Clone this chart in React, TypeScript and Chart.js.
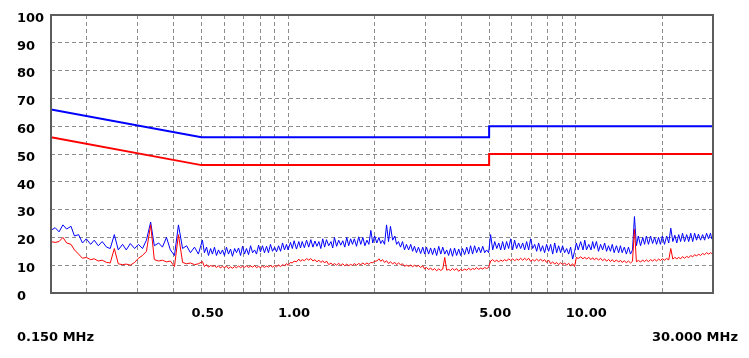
import React, { useEffect, useRef } from "react";
import { Chart, registerables } from "chart.js";

Chart.register(...registerables);

// Frequency points (MHz) of the measured traces
const freqMHz = [
  0.150, 0.155, 0.160, 0.165, 0.170, 0.176, 0.181, 0.187, 0.193, 0.199,
  0.206, 0.212, 0.219, 0.226, 0.234, 0.241, 0.249, 0.257, 0.266, 0.274,
  0.283, 0.293, 0.302, 0.312, 0.322, 0.333, 0.343, 0.355, 0.366, 0.378,
  0.390, 0.403, 0.416, 0.430, 0.444, 0.458, 0.473, 0.488,
  0.504, 0.512, 0.521, 0.529, 0.538, 0.546, 0.555, 0.564, 0.573, 0.582,
  0.592, 0.601, 0.611, 0.621, 0.631, 0.641, 0.652, 0.662, 0.673, 0.684,
  0.695, 0.706, 0.717, 0.729, 0.741, 0.753, 0.765, 0.777, 0.790, 0.802,
  0.815, 0.828, 0.842, 0.855, 0.869, 0.883, 0.898, 0.912, 0.927, 0.942,
  0.957, 0.972, 0.988, 1.00, 1.02, 1.035, 1.05, 1.07, 1.09, 1.105,
  1.12, 1.14, 1.16, 1.18, 1.20, 1.22, 1.24, 1.26, 1.28, 1.30,
  1.32, 1.34, 1.36, 1.385, 1.41, 1.43, 1.45, 1.475, 1.50, 1.525,
  1.55, 1.575, 1.60, 1.625, 1.65, 1.675, 1.70, 1.73, 1.76, 1.79,
  1.82, 1.85, 1.88, 1.91, 1.94, 1.97, 2.00, 2.035, 2.07, 2.10,
  2.13, 2.165, 2.20, 2.235, 2.27, 2.31, 2.35, 2.385, 2.42, 2.46,
  2.50, 2.54, 2.58, 2.625, 2.67, 2.71, 2.75, 2.795, 2.84, 2.89,
  2.94, 2.985, 3.03, 3.08, 3.13, 3.18, 3.23, 3.285, 3.34, 3.395,
  3.45, 3.505, 3.56, 3.615, 3.67, 3.73, 3.79, 3.855, 3.92, 3.98,
  4.04, 4.11, 4.18, 4.245, 4.31, 4.38, 4.45, 4.525, 4.60, 4.675,
  4.75, 4.825, 4.90, 4.98, 5.06, 5.145, 5.23, 5.315, 5.40, 5.485,
  5.57, 5.66, 5.75, 5.845, 5.94, 6.035, 6.13, 6.23, 6.33, 6.435,
  6.54, 6.645, 6.75, 6.86, 6.97, 7.085, 7.20, 7.315, 7.43, 7.55,
  7.67, 7.795, 7.92, 8.05, 8.18, 8.315, 8.45, 8.585, 8.72, 8.86,
  9.00, 9.15, 9.30, 9.45, 9.60, 9.755, 9.91, 10.05, 10.2, 10.4,
  10.6, 10.75, 10.9, 11.1, 11.3, 11.45, 11.6, 11.8, 12.0, 12.2,
  12.4, 12.6, 12.8, 13.0, 13.2, 13.4, 13.6, 13.85, 14.1, 14.3,
  14.5, 14.75, 15.0, 15.25, 15.5, 15.75, 16.0, 16.25, 16.5, 16.8,
  17.1, 17.35, 17.6, 17.9, 18.2, 18.5, 18.8, 19.1, 19.4, 19.7,
  20.0, 20.35, 20.7, 21.05, 21.4, 21.75, 22.1, 22.45, 22.8, 23.15,
  23.5, 23.9, 24.3, 24.7, 25.1, 25.5, 25.9, 26.3, 26.7, 27.15,
  27.6, 28.05, 28.5, 28.95, 29.4, 29.7, 30.0,
];

// Blue trace (dBuV)
const blueTrace = [
  22.5, 23.5, 22, 24.5, 23, 24, 20.5, 21, 18, 19.5,
  17.5, 19, 17, 18.5, 16.5, 16, 21, 15.5, 17.5, 15.5,
  17.8, 16, 17.5, 16, 19, 25.5, 17, 18, 16.5, 20,
  15.5, 13.5, 24.5, 16, 17, 14.5, 16.5, 14,
  19, 14.5, 16.5, 13.5, 16, 14, 16.5, 13.5, 15.5, 14,
  15.5, 13.5, 16.5, 14, 15.8, 13.2, 16, 14.5, 16.2, 13.5,
  16.8, 14, 16, 13.8, 17, 14.5, 15.5, 14, 17.2, 14.8,
  17, 14.5, 16.8, 14.5, 17.5, 15, 16.5, 14.8, 17, 15,
  18, 15.5, 17.5, 15.5, 18.2, 16, 18.8, 15.8, 18.5, 16.2,
  18.5, 16.3, 19, 16.5, 19.2, 16.5, 18.7, 16.8, 18.5, 16,
  19.5, 16.5, 19.2, 17, 18.5, 16.2, 20, 16.8, 19, 17.2,
  18.8, 16.5, 20, 17, 19.5, 17.5, 19.5, 16.8, 20.2, 17.5,
  20, 17, 19, 17.5, 22.5, 18, 20.5, 18, 20, 17.8,
  19, 17.5, 24.5, 18.5, 24, 19, 20.5, 17.5, 18.5, 16.5,
  18.5, 15.5, 17.5, 15.5, 17.5, 15, 16.8, 14.5, 16.5, 14.2,
  16.5, 14, 16.5, 14, 16.2, 13.8, 16.2, 13.5, 16.8, 14,
  16.5, 14, 15.5, 13.5, 16, 13.2, 16.2, 13.5, 15.8, 13.5,
  16, 13.8, 16.5, 14, 17, 14, 17, 14.5, 16.5, 14.5,
  16.8, 14.5, 15.5, 14.5, 21, 15.5, 18.5, 16, 18, 15.5,
  18.5, 15.5, 18.5, 16, 19.5, 15.5, 19, 16, 18, 16,
  18, 15.5, 18.5, 15.5, 19.5, 16, 17.5, 15, 18, 15,
  17, 14.5, 17.5, 15, 17.5, 14, 18, 14.5, 17, 14.5,
  17, 14.5, 16, 14, 16.5, 12.2, 15, 18, 15.5, 18.5,
  15.5, 19, 15.5, 17.5, 15.5, 18.5, 16, 18.5, 15, 17.5,
  15.5, 18, 15, 17, 15, 17.5, 14.5, 17, 14.5, 17,
  14.5, 16.5, 14, 16.5, 14, 15.5, 27.5, 17, 20.5, 17,
  20, 17.5, 20.5, 17.5, 20.5, 17.8, 20, 17.5, 20, 17.5,
  20.5, 17.5, 20.5, 18, 23.3, 18.5, 20.8, 18, 21, 18.5,
  21.5, 18.5, 21, 18.5, 21.5, 18.5, 21.5, 19, 21.2, 19,
  21, 19, 21.5, 19.5, 21.5, 19.5, 20.5,
];

// Red trace (dBuV)
const redTrace = [
  18.5, 18.2, 18.5, 20, 18, 17.5, 15.5, 14, 12.5, 12.8,
  12, 12.3, 11.5, 11.8, 11, 10.8, 16, 10.5, 10.2, 10.4,
  10, 11, 12.5, 13.5, 15, 24.5, 12, 11.5, 11.8, 11.2,
  11.5, 9.5, 21, 11, 10.5, 10.8, 10.2, 10.5,
  11.3, 9.5, 10.2, 9.3, 9.9, 9.6, 9.8, 9.2, 9.8, 9,
  9.6, 9.1, 9.7, 8.8, 9.4, 8.9, 9.5, 9.1, 9.7, 9.1,
  9.6, 9.2, 9.8, 9.2, 9.7, 9.3, 9.9, 9.1, 9.6, 9.1,
  9.7, 9.2, 9.7, 9.3, 9.9, 9.3, 9.9, 9.4, 10.1, 9.5,
  10.2, 9.8, 10.6, 9.9, 11, 10.8, 11.5, 11.2, 12.2, 11.4,
  12, 11.6, 12.4, 11.8, 12.4, 11.5, 12, 11.2, 11.8, 11,
  11.6, 10.8, 11.5, 10.2, 10.8, 10.1, 10.6, 10, 10.7, 9.9,
  10.5, 9.8, 10.4, 9.8, 10.3, 9.9, 10.6, 10, 10.6, 10.2,
  10.8, 10.2, 10.8, 10.3, 11, 10.9, 11.4, 11.5, 12.3, 11.4,
  12, 11, 11.6, 10.6, 11.2, 10.5, 11, 10.2, 10.8, 10.2,
  10.5, 9.6, 10, 9.6, 10.1, 9.4, 10, 9.5, 9.9, 9.2,
  9.8, 8.6, 9.2, 8.4, 9, 8.2, 8.8, 8, 8.7, 8.1,
  8.6, 12.8, 8.2, 8.5, 8.1, 8.8, 8.2, 8.8, 7.8, 8.5,
  8.1, 8.6, 8.2, 8.9, 8.3, 8.8, 8.5, 9.1, 8.5, 9,
  8.6, 9.2, 8.8, 9.2, 11.5, 12, 11.3, 11.8, 11.2, 11.9,
  11.4, 12, 11.5, 12.3, 11.7, 12.3, 11.6, 12.2, 11.8, 12.5,
  11.8, 12.5, 11.8, 12.5, 11.4, 12, 11.5, 12.2, 11.5, 12.2,
  11.4, 12, 11, 11.8, 10.5, 11.2, 10.4, 11, 10.2, 10.9,
  10.2, 10.8, 10, 10.7, 9.8, 10.5, 9.5, 12.8, 12.4, 13,
  12.3, 12.9, 12.2, 12.8, 12, 12.7, 11.9, 12.6, 11.8, 12.5,
  11.6, 12.3, 11.4, 12.1, 11.3, 12, 11.2, 11.9, 11.1, 11.8,
  11, 11.6, 10.9, 11.5, 10.8, 11.4, 23, 11.2, 11.7, 11.2,
  11.8, 11.3, 11.9, 11.3, 12, 11.5, 12.1, 11.5, 12.2, 11.7,
  12.3, 11.8, 12.4, 11.9, 16, 12.2, 12.8, 12.3, 12.8, 12.3,
  13.1, 12.5, 13.2, 12.7, 13.5, 13, 13.8, 13.3, 14, 13.5,
  14.2, 13.8, 14.5, 14, 14.5, 14.2, 14.8,
];

// Limit lines
const limitFreq = [0.15, 0.5, 5, 5, 30];
const qpLimit = [66, 56, 56, 60, 60];
const avLimit = [56, 46, 46, 50, 50];

// Axes
const xGridValues = [0.2, 0.3, 0.4, 0.5, 0.6, 0.7, 0.8, 0.9, 1, 2, 3, 4, 5, 6, 7, 8, 9, 10, 20];
const xLabelValues = [0.5, 1, 5, 10];
const xLabelTexts = ["0.50", "1.00", "5.00", "10.00"];
const yTickValues = [0, 10, 20, 30, 40, 50, 60, 70, 80, 90, 100];
const startLabel = "0.150 MHz";
const endLabel = "30.000 MHz";

const FONT = 'bold 13px "DejaVu Sans", sans-serif';

const labelsPlugin = {
  id: "emcLabels",
  afterDraw(chart: any) {
    const { ctx, chartArea: a, scales } = chart;
    const x = scales.x;
    const y = scales.y;
    ctx.save();
    ctx.strokeStyle = "#5c5c5c";
    ctx.lineWidth = 2;
    ctx.strokeRect(a.left, a.top, a.right - a.left, a.bottom - a.top);
    ctx.fillStyle = "#000";
    ctx.font = FONT;
    ctx.textBaseline = "middle";
    ctx.textAlign = "left";
    yTickValues.forEach((v) => {
      ctx.fillText(String(v), 17, y.getPixelForValue(v) + 3.5);
    });
    xLabelValues.forEach((v, i) => {
      ctx.fillText(xLabelTexts[i], x.getPixelForValue(v) - 10, 314);
    });
    ctx.fillText(startLabel, 17, 338);
    ctx.textAlign = "right";
    ctx.fillText(endLabel, 738, 338);
    ctx.restore();
  },
};

export default function App() {
  const ref = useRef<HTMLCanvasElement | null>(null);
  useEffect(() => {
    if (!ref.current) return;
    const gridOpts = { color: "#8c8c8c", lineWidth: 1, drawTicks: false };
    const borderOpts = { display: false, dash: [4, 3] };
    const chart = new Chart(ref.current, {
      type: "line",
      data: {
        datasets: [
          {
            label: "QP limit",
            data: limitFreq.map((f, i) => ({ x: f, y: qpLimit[i] })),
            borderColor: "#0000ff",
            borderWidth: 2,
            pointRadius: 0,
            order: 0,
          },
          {
            label: "AV limit",
            data: limitFreq.map((f, i) => ({ x: f, y: avLimit[i] })),
            borderColor: "#ff0000",
            borderWidth: 2,
            pointRadius: 0,
            order: 0,
          },
          {
            label: "Red trace",
            data: freqMHz.map((f, i) => ({ x: f, y: redTrace[i] })),
            borderColor: "#ff0000",
            borderWidth: 1,
            pointRadius: 0,
            order: 1,
          },
          {
            label: "Blue trace",
            data: freqMHz.map((f, i) => ({ x: f, y: blueTrace[i] })),
            borderColor: "#0000ff",
            borderWidth: 1,
            pointRadius: 0,
            order: 2,
          },
        ],
      },
      options: {
        animation: false,
        responsive: false,
        devicePixelRatio: 1,
        layout: { padding: { left: 51, right: 36, top: 15, bottom: 65 } },
        plugins: { legend: { display: false }, tooltip: { enabled: false } },
        elements: { line: { tension: 0 } },
        scales: {
          x: {
            type: "logarithmic",
            min: 0.15,
            max: 30,
            afterBuildTicks: (axis: any) => {
              axis.ticks = xGridValues.map((v) => ({ value: v }));
            },
            ticks: { display: false },
            grid: gridOpts,
            border: borderOpts,
          },
          y: {
            type: "linear",
            min: 0,
            max: 100,
            ticks: { display: false, stepSize: 10 },
            grid: gridOpts,
            border: borderOpts,
          },
        },
      },
      plugins: [labelsPlugin],
    } as any);
    return () => chart.destroy();
  }, []);
  return (
    <div style={{ position: "absolute", left: 0, top: 0, width: 749, height: 358, background: "#fff" }}>
      <canvas ref={ref} width={749} height={358} style={{ width: 749, height: 358 }} />
    </div>
  );
}
